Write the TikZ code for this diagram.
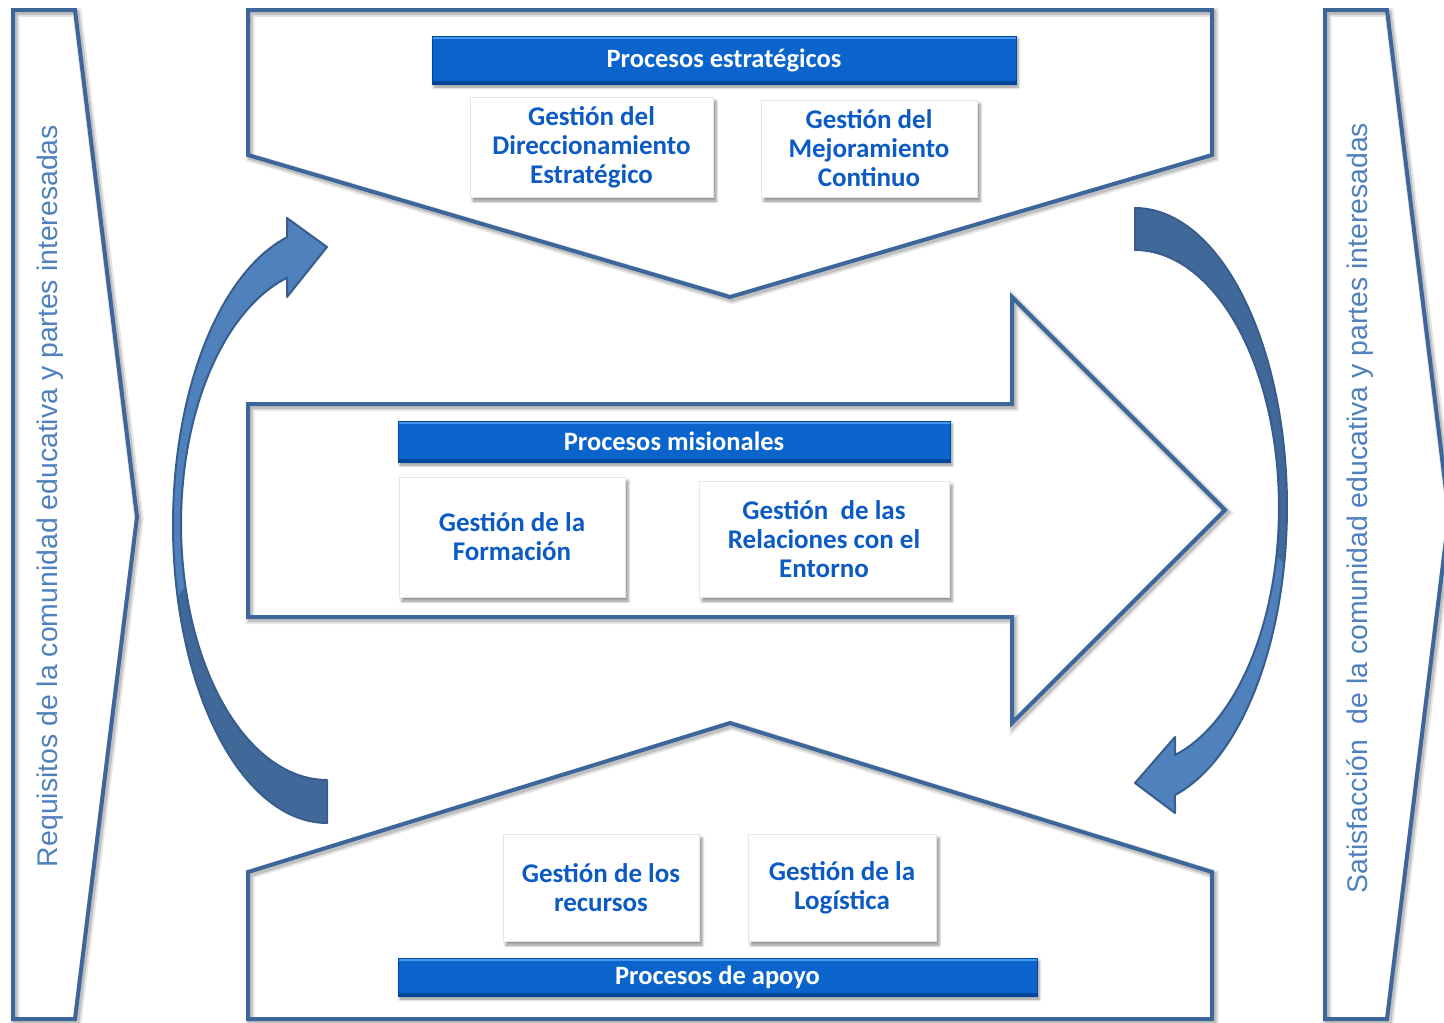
\documentclass[tikz,border=0pt]{standalone}
\usepackage{fontspec}
\setmainfont{Carlito}
\newfontfamily\arialfont{Liberation Sans}
\usetikzlibrary{shadows.blur}

\definecolor{frameblue}{RGB}{61,103,155}
\definecolor{arrowlight}{RGB}{79,129,189}
\definecolor{arrowdark}{RGB}{64,104,153}
\definecolor{arrowedge}{RGB}{56,93,140}
\definecolor{hdtop}{RGB}{70,150,235}
\definecolor{hdmid}{RGB}{10,100,204}
\definecolor{hdbot}{RGB}{0,70,155}
\definecolor{boxtext}{RGB}{12,90,196}
\definecolor{sidetext}{RGB}{79,129,189}

\begin{document}
\begin{tikzpicture}[x=1pt,y=-1pt,
  frame/.style={draw=frameblue, line width=4pt, line join=miter,
    preaction={draw=black, opacity=0.10, line width=9pt,
      transform canvas={xshift=2pt,yshift=-2.5pt}},
    preaction={draw=black, opacity=0.16, line width=5pt,
      transform canvas={xshift=2pt,yshift=-2.5pt}}},
  header/.style={rectangle, draw=hdbot, line width=0.8pt, fill=hdmid,
    path picture={
      \fill[hdtop] (path picture bounding box.north west)
        rectangle ([yshift=-3pt]path picture bounding box.north east);
      \fill[hdbot] (path picture bounding box.south west)
        rectangle ([yshift=3pt]path picture bounding box.south east);},
    text=white, font=\bfseries\fontsize{26.5}{30}\selectfont, inner sep=0pt,
    blur shadow={shadow xshift=2pt, shadow yshift=-3pt,
      shadow blur radius=3pt, shadow opacity=45}},
  procbox/.style={rectangle, fill=white, draw=black!10, line width=0.8pt,
    text=boxtext, font=\bfseries\fontsize{27}{29}\selectfont,
    align=center, inner sep=0pt,
    blur shadow={shadow xshift=3pt, shadow yshift=-4pt,
      shadow blur radius=3pt, shadow opacity=45}},
  sidelabel/.style={text=sidetext, font=\arialfont\fontsize{28.4}{32}\selectfont,
    rotate=90, inner sep=0pt},
  arrowoutline/.style={draw=arrowedge, line width=2pt, line join=round}
]
\path[use as bounding box] (0,0) rectangle (1444,1023);
\clip (0,0) rectangle (1444,1023);

% outer chevrons
\draw[frame] (13,10) -- (75,10) -- (137,517) -- (75,1019) -- (13,1019) -- cycle;
\draw[frame] (1325,10) -- (1387,10) -- (1449,515) -- (1387,1019) -- (1325,1019) -- cycle;

% strategic, mission and support frames
\draw[frame] (248,10) -- (1212,10) -- (1212,155) -- (730,297) -- (248,155) -- cycle;
\draw[frame] (248,404) -- (1012,404) -- (1012,297) -- (1225,510) -- (1012,723)
  -- (1012,617) -- (248,617) -- cycle;
\draw[frame] (248,1019) -- (248,872) -- (730,723) -- (1212,872) -- (1212,1019) -- cycle;

% left curved arrow (pointing up-right)
\def\leftarrowshape{plot[domain=90:254.95, samples=90] ({327+154*cos(\x)},{525+298*sin(\x)})
  -- (287,218) -- (327,247) -- (287,297) -- (287,278)
  -- plot[domain=254.1:90, samples=90] ({327+146*cos(\x)},{524+256*sin(\x)}) -- cycle}
\fill[arrowlight] \leftarrowshape;
\fill[arrowdark] plot[domain=90:166, samples=60] ({327+154*cos(\x)},{525+298*sin(\x)})
  -- plot[domain=166:90, samples=60] ({327+146*cos(\x)},{524+256*sin(\x)}) -- cycle;
\path[arrowoutline] \leftarrowshape;

% right curved arrow (pointing down-left)
\def\rightarrowshape{plot[domain=-90:74.75, samples=90] ({1135+152*cos(\x)},{506.8+298.8*sin(\x)})
  -- (1175,813) -- (1135,783) -- (1175,737) -- (1175,755)
  -- plot[domain=73.87:-90, samples=90] ({1135+144*cos(\x)},{507.6+257.6*sin(\x)}) -- cycle}
\fill[arrowlight] \rightarrowshape;
\fill[arrowdark] plot[domain=-90:11, samples=60] ({1135+152*cos(\x)},{506.8+298.8*sin(\x)})
  -- plot[domain=11:-90, samples=60] ({1135+144*cos(\x)},{507.6+257.6*sin(\x)}) -- cycle;
\path[arrowoutline] \rightarrowshape;

% section headers
\node[header, minimum width=584pt, minimum height=48pt] (hstrat) at (724,60) {Procesos estratégicos};
\node[header, minimum width=552pt, minimum height=41pt] (hmis) at (674,441.5) {Procesos misionales};
\node[header, minimum width=639pt, minimum height=38pt] (hapo) at (717.5,977) {Procesos de apoyo};

% process boxes
\node[procbox, minimum width=243pt, minimum height=100pt] (dir) at (591.5,147)
  {Gestión del\\Direccionamiento\\Estratégico};
\node[procbox, minimum width=216pt, minimum height=97pt] (mej) at (869,148.5)
  {Gestión del\\Mejoramiento\\Continuo};
\node[procbox, minimum width=226pt, minimum height=120pt] (for) at (512,537)
  {Gestión de la\\Formación};
\node[procbox, minimum width=250pt, minimum height=116pt] (rel) at (824,539)
  {Gestión\ \ de las\\Relaciones con el\\Entorno};
\node[procbox, minimum width=196pt, minimum height=107pt] (rec) at (601,887.5)
  {Gestión de los\\recursos};
\node[procbox, minimum width=188pt, minimum height=107pt] (log) at (842,887.5)
  {Gestión de la\\Logística};

% side labels
\node[sidelabel] (req) at (50,496) {Requisitos de la comunidad educativa y partes interesadas};
\node[sidelabel] (sat) at (1360,508) {Satisfacción\ \ de la comunidad educativa y partes interesadas};
\end{tikzpicture}
\end{document}
